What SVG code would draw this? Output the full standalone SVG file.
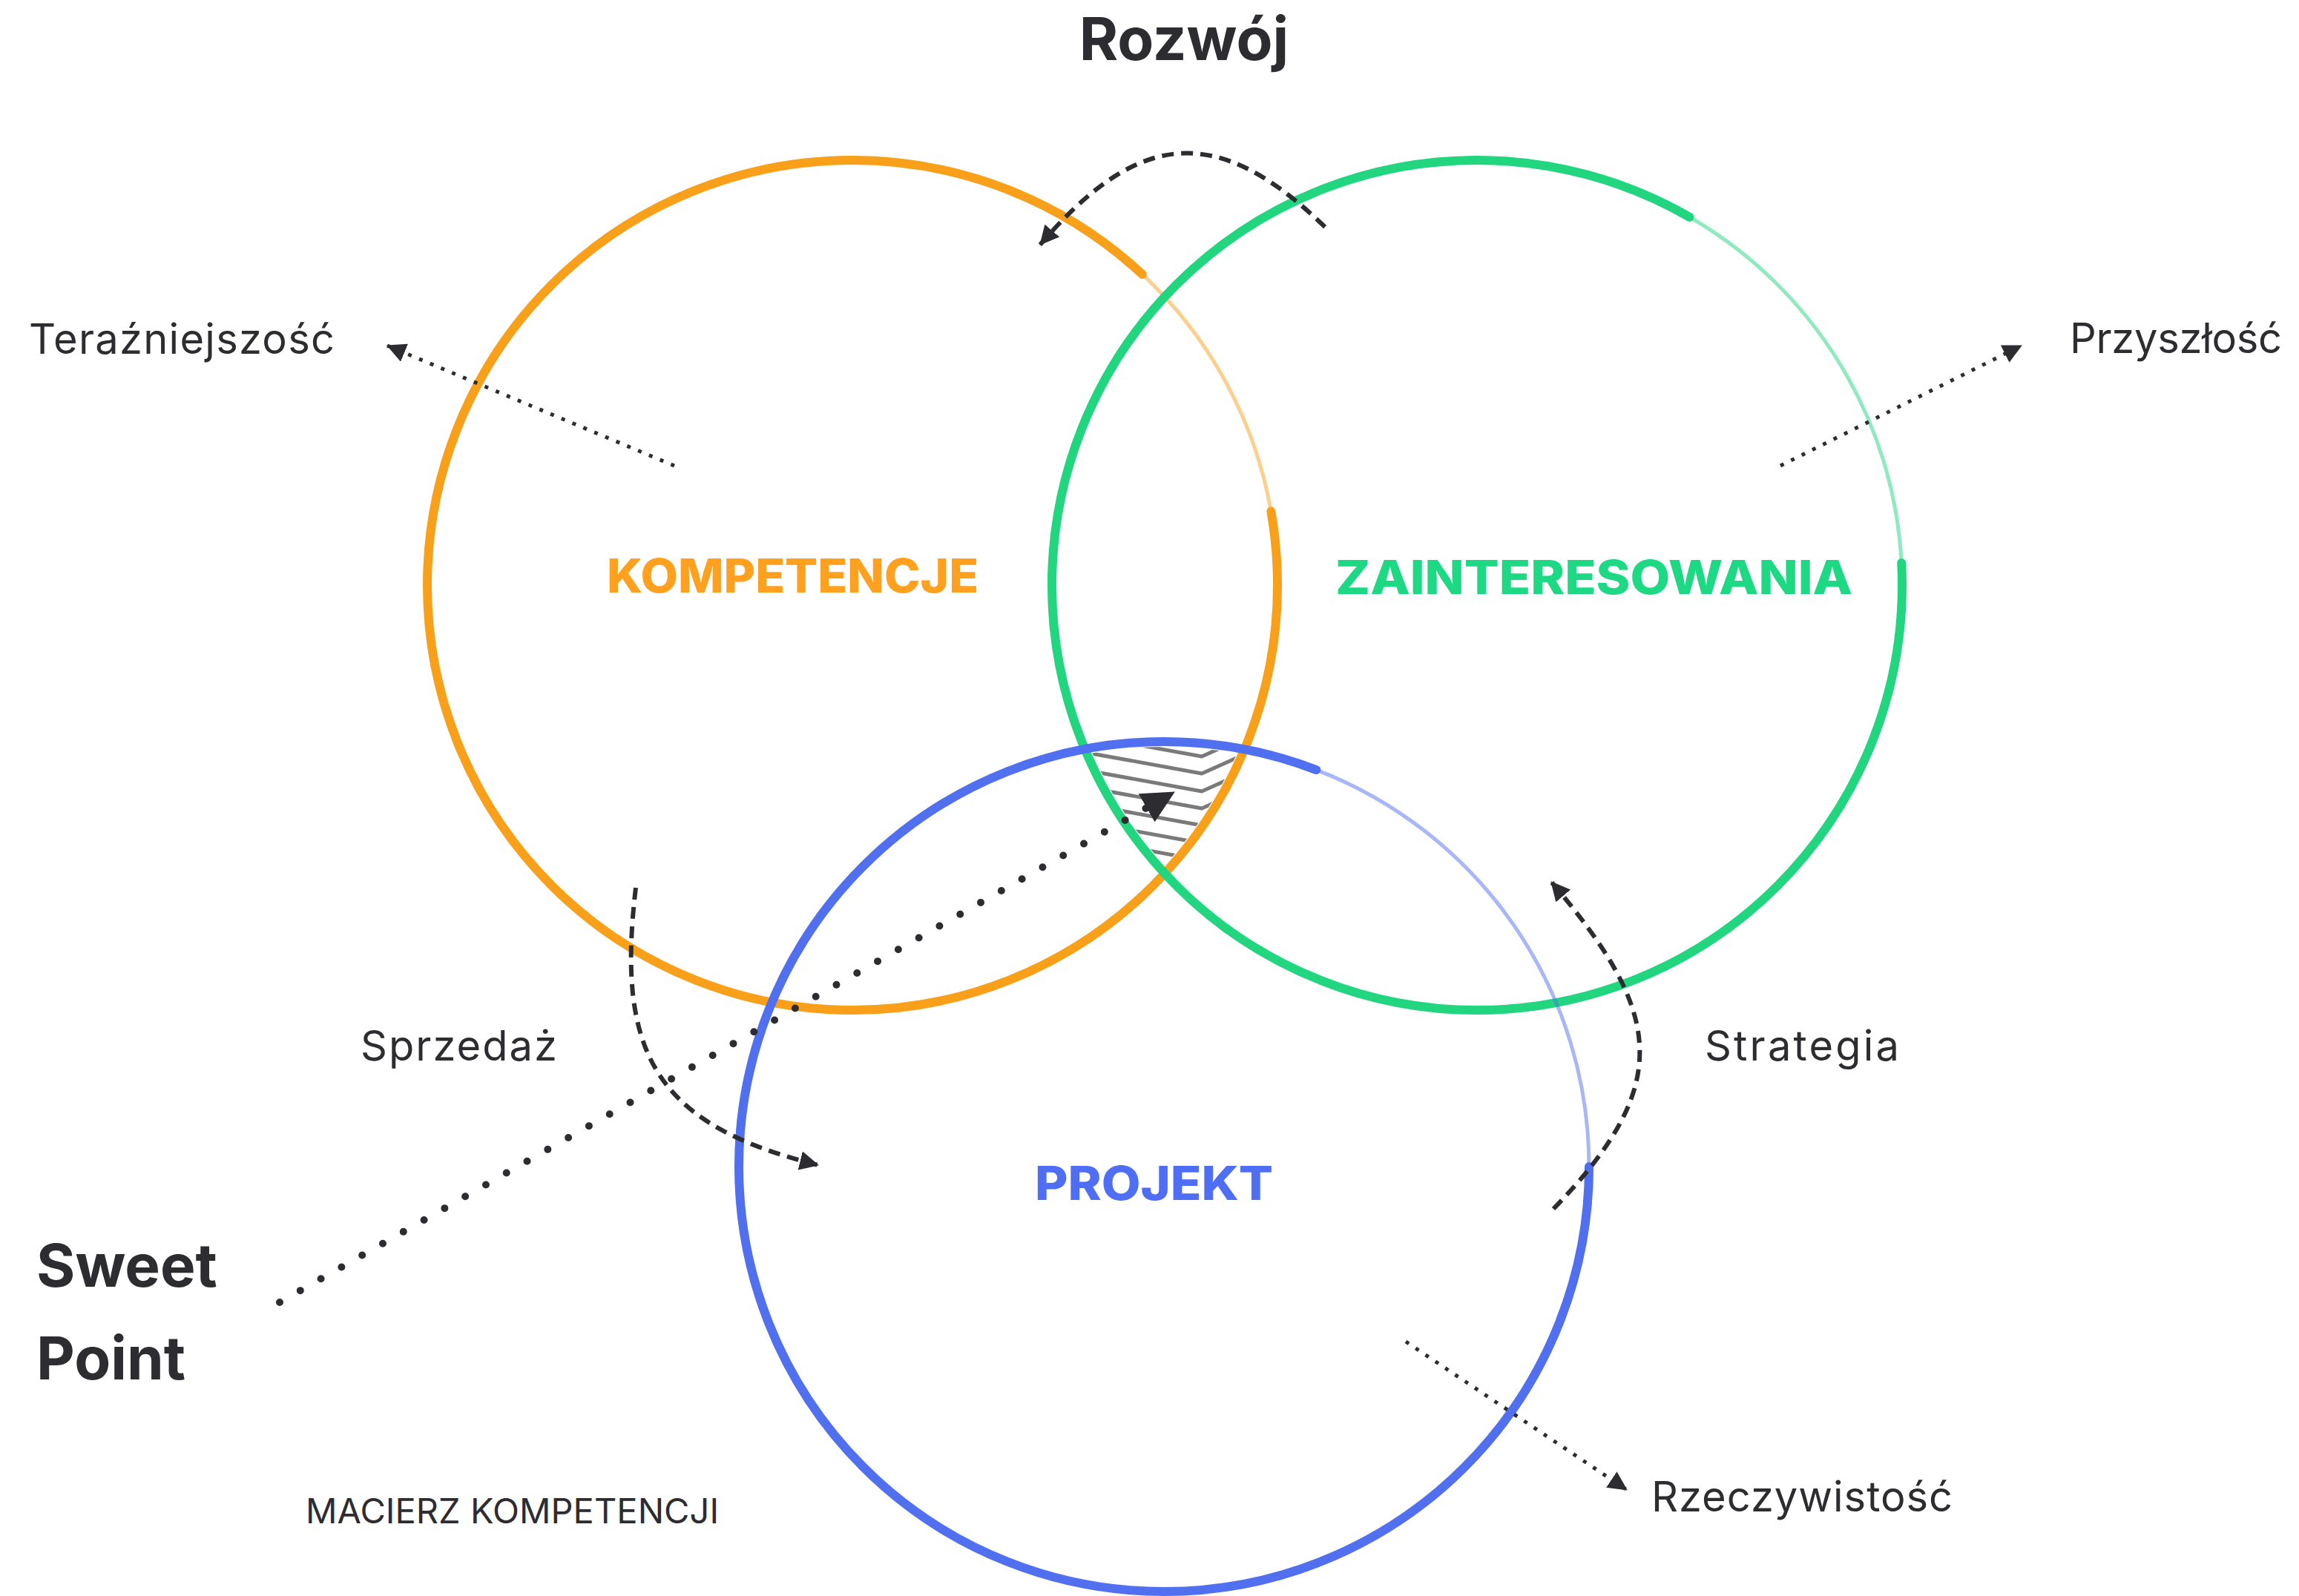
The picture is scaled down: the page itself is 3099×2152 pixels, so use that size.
<svg xmlns="http://www.w3.org/2000/svg" width="3099" height="2152" viewBox="0 0 3099 2152">
<style>
.lbl{font-family:Inter,"Noto Sans","Liberation Sans",sans-serif;fill:#2d2c31}
.big{font-weight:700;font-size:80px}
.mid{font-weight:400;font-size:56px}
.small{font-weight:400;font-size:47px}
.cat{font-family:Inter,"Liberation Sans",sans-serif;font-weight:800;font-size:63px}
.ring{fill:none;stroke-width:12;stroke-linecap:round}
.fade{fill:none;stroke-width:5;opacity:0.5}
.tex{fill:none;stroke-width:3;opacity:0.5}
.dash{fill:none;stroke:#2d2c31;stroke-width:6;stroke-dasharray:16 10}
.dot{fill:none;stroke:#2d2c31;stroke-width:5;stroke-dasharray:5 11}
.sweet{fill:none;stroke:#2d2c31;stroke-width:10;stroke-linecap:round;stroke-dasharray:0 32}
.hatch{fill:none;stroke:#7a7a7a;stroke-width:5;stroke-linejoin:round}
</style>
<defs>
<marker id="arr" markerUnits="userSpaceOnUse" markerWidth="26" markerHeight="26" viewBox="0 0 26 26" refX="25" refY="13" orient="auto"><path d="M0,0 L26,13 L0,26 z" fill="#2d2c31"/></marker>
<marker id="arrBig" markerUnits="userSpaceOnUse" markerWidth="44" markerHeight="44" viewBox="0 0 44 44" refX="43" refY="22" orient="auto"><path d="M0,0 L44,22 L0,44 z" fill="#2d2c31"/></marker>
<clipPath id="cO"><circle cx="1149" cy="789" r="566"/></clipPath>
<clipPath id="cG"><circle cx="1991" cy="789" r="566"/></clipPath>
<clipPath id="cB"><circle cx="1569" cy="1573" r="566"/></clipPath>
</defs>
<rect width="3099" height="2152" fill="#ffffff"/>

<g id="kompetencje">
<path class="ring" stroke="#f9a01b" pathLength="360" stroke-dasharray="313 37 10" d="M1722,789 A573,573 0 1 1 576,789 A573,573 0 1 1 1722,789"/>
<path class="fade" stroke="#f9a01b" pathLength="360" stroke-dasharray="0 313 37 10" d="M1722,789 A573,573 0 1 1 576,789 A573,573 0 1 1 1722,789"/>
<path class="tex" stroke="#f9a01b" pathLength="360" stroke-dasharray="120 40 90 110" d="M1726,789 A577,577 0 1 1 572,789 A577,577 0 1 1 1726,789"/>
<text class="cat" x="818" y="799" fill="#ffa11f" textLength="501" lengthAdjust="spacingAndGlyphs">KOMPETENCJE</text>
</g>

<g id="zainteresowania">
<path class="ring" stroke="#22d67f" pathLength="360" stroke-dasharray="300 57 3" d="M2564,789 A573,573 0 1 1 1418,789 A573,573 0 1 1 2564,789"/>
<path class="fade" stroke="#22d67f" pathLength="360" stroke-dasharray="0 300 57 3" d="M2564,789 A573,573 0 1 1 1418,789 A573,573 0 1 1 2564,789"/>
<path class="tex" stroke="#22d67f" pathLength="360" stroke-dasharray="100 60 110 90" d="M2568,789 A577,577 0 1 1 1414,789 A577,577 0 1 1 2568,789"/>
<text class="cat" x="1800" y="801" fill="#1ed983" textLength="697" lengthAdjust="spacingAndGlyphs">ZAINTERESOWANIA</text>
</g>

<g id="projekt">
<path class="ring" stroke="#5170f0" pathLength="360" stroke-dasharray="291 69" d="M2142,1573 A573,573 0 1 1 996,1573 A573,573 0 1 1 2142,1573"/>
<path class="fade" stroke="#5170f0" pathLength="360" stroke-dasharray="0 291 69" d="M2142,1573 A573,573 0 1 1 996,1573 A573,573 0 1 1 2142,1573"/>
<path class="tex" stroke="#5170f0" pathLength="360" stroke-dasharray="80 70 120 90" d="M2146,1573 A577,577 0 1 1 992,1573 A577,577 0 1 1 2146,1573"/>
<text class="cat" x="1395" y="1618" fill="#4e6ef5" textLength="321" lengthAdjust="spacingAndGlyphs">PROJEKT</text>
</g>

<g id="sweet-point-area" clip-path="url(#cO)"><g clip-path="url(#cG)"><g clip-path="url(#cB)">
<path class="hatch" d="M1400,980 L1620,1020 L1720,975"/>
<path class="hatch" d="M1400,1003 L1620,1043 L1720,998"/>
<path class="hatch" d="M1400,1027 L1620,1067 L1720,1022"/>
<path class="hatch" d="M1400,1050 L1620,1090 L1720,1045"/>
<path class="hatch" d="M1400,1073 L1620,1113 L1720,1068"/>
<path class="hatch" d="M1400,1097 L1620,1137 L1720,1092"/>
<path class="hatch" d="M1400,1120 L1620,1160 L1720,1115"/>
<path class="hatch" d="M1400,1143 L1620,1183 L1720,1138"/>
</g></g></g>

<g id="labels">
<text class="lbl big" x="1596" y="81" text-anchor="middle">Rozwój</text>
<text class="lbl big" x="49" y="1735">Sweet</text>
<text class="lbl big" x="49" y="1860">Point</text>
<text class="lbl mid" x="39" y="477" textLength="412">Teraźniejszość</text>
<text class="lbl mid" x="2790" y="476" textLength="286">Przyszłość</text>
<text class="lbl mid" x="2298" y="1430" textLength="262">Strategia</text>
<text class="lbl mid" x="486" y="1430" textLength="265">Sprzedaż</text>
<text class="lbl mid" x="2226" y="2038" textLength="406">Rzeczywistość</text>
<text class="lbl small" x="412" y="2054" textLength="557">MACIERZ KOMPETENCJI</text>
</g>

<g id="connectors">
<path class="dash" marker-end="url(#arr)" d="M1786,306 C1640,164 1534,176 1402,330"/>
<path class="dash" marker-end="url(#arr)" d="M857,1197 C830,1422 885,1517 1103,1571"/>
<path class="dash" marker-end="url(#arr)" d="M2094,1630 C2257,1462 2242,1366 2091,1189"/>
<path class="dot" marker-end="url(#arr)" d="M909,628 L522,466"/>
<path class="dot" marker-end="url(#arr)" d="M2400,628 L2725,466"/>
<path class="dot" marker-end="url(#arr)" d="M1895,1809 L2193,2009"/>
<path class="sweet" marker-end="url(#arrBig)" d="M377,1756 L1583,1068"/>
</g>
</svg>
